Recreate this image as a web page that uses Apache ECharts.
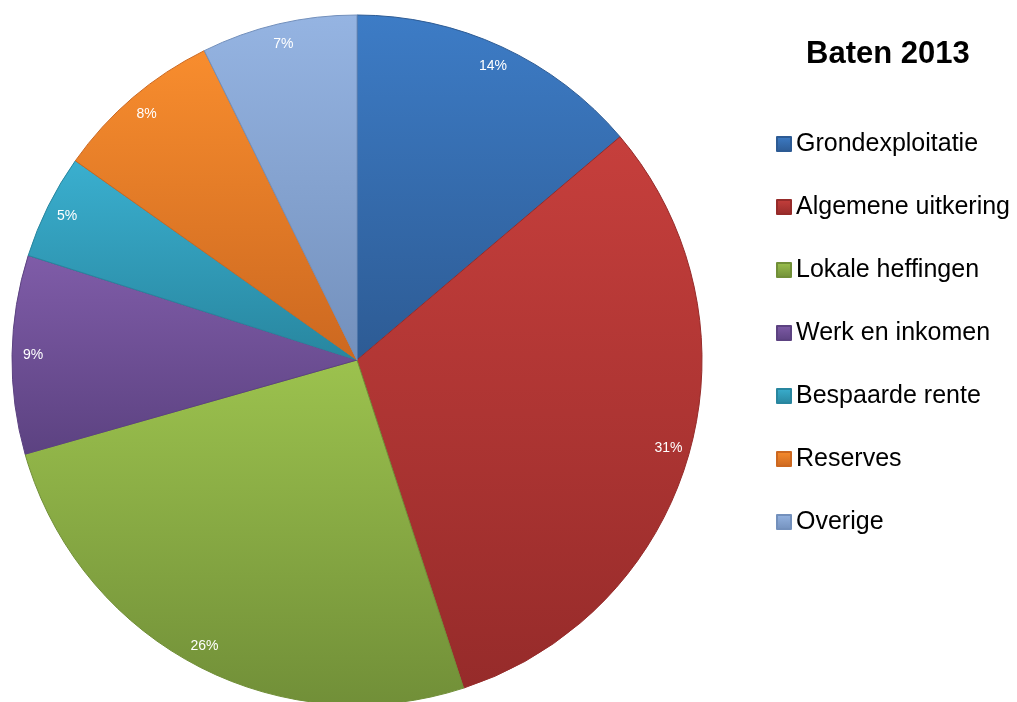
<!DOCTYPE html>
<html>
<head>
<meta charset="utf-8">
<script src="https://cdn.jsdelivr.net/npm/echarts@6/dist/echarts.min.js"></script>
<style>
html,body{margin:0;padding:0;background:#fff;}
#chart{width:1017px;height:702px;}
</style>
</head>
<body>
<div id="chart"></div>
<script>
const categories = ['Grondexploitatie','Algemene uitkering','Lokale heffingen','Werk en inkomen','Bespaarde rente','Reserves','Overige'];
const values = [13.8, 31.2, 25.6, 9.3, 4.9, 7.9, 7.3];
const topColors = ['#3d7cc6','#c63f3c','#9cc24e','#7f5ca8','#3aafcf','#f88d2e','#95b4e2'];
const bottomColors = ['#2d5b94','#962b2a','#718f38','#5c4281','#28869f','#cc6820','#7390bc'];
const titleText = 'Baten 2013';

const R = 345;
const center = [357, 360];

function grad(i){
  return new echarts.graphic.LinearGradient(0,0,0,1,[
    {offset:0,color:topColors[i]},
    {offset:1,color:bottomColors[i]}
  ]);
}

const mainData = categories.map((c,i)=>({
  name:c, value:values[i],
  itemStyle:{color:grad(i), borderColor:bottomColors[i], borderWidth:1}
}));
const labelData = categories.map((c,i)=>({name:c, value:values[i]}));

const chart = echarts.init(document.getElementById('chart'));
chart.setOption({
  animation:false,
  backgroundColor:'#fff',
  title:{
    text:titleText, left:801, top:34,
    textStyle:{fontFamily:'Liberation Sans, Arial, sans-serif', fontSize:31, fontWeight:'bold', color:'#000'}
  },
  legend:{
    orient:'vertical', left:771, top:125,
    icon:'rect', itemWidth:14, itemHeight:14, itemGap:35,
    data: categories.map((c,i)=>({name:c, itemStyle:{color:grad(i)}})),
    textStyle:{fontFamily:'Liberation Sans, Arial, sans-serif', fontSize:25, color:'#000', lineHeight:28}
  },
  series:[
    {
      type:'pie', name:'main', center:center, radius:[0,R],
      startAngle:90, clockwise:true, silent:true,
      label:{show:false}, labelLine:{show:false},
      data:mainData
    },
    {
      type:'pie', name:'labels', center:center, radius:[R*0.86,R],
      startAngle:90, clockwise:true, silent:true,
      itemStyle:{color:'rgba(0,0,0,0)'},
      label:{show:true, position:'inside', color:'#fff',
        fontFamily:'Liberation Sans, Arial, sans-serif', fontSize:14,
        formatter:p=>Math.round(p.percent)+'%'},
      labelLine:{show:false},
      legendHoverLink:false,
      data:labelData
    }
  ]
});
</script>
</body>
</html>
